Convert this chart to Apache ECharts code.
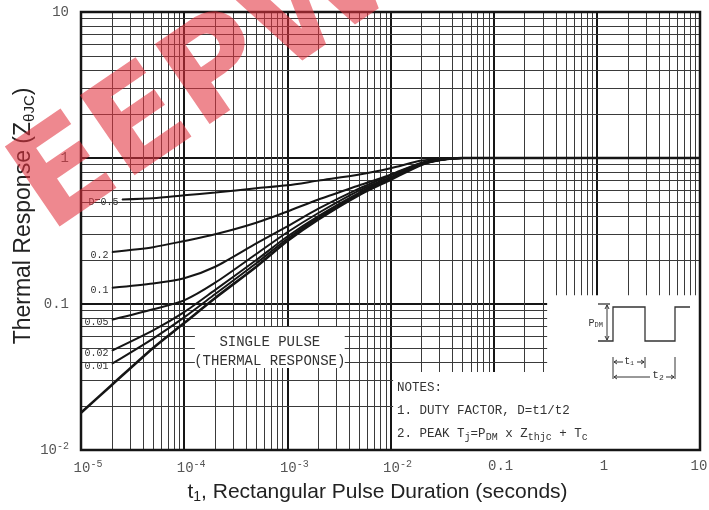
<!DOCTYPE html>
<html>
<head>
<meta charset="utf-8">
<script src="https://cdn.jsdelivr.net/npm/echarts@6/dist/echarts.min.js"></script>
<style>
  html, body { margin: 0; padding: 0; background: #fff; }
  #chart { width: 709px; height: 510px; }
</style>
</head>
<body>
<div id="chart"></div>
<script>
// Transient thermal impedance, junction to case, versus rectangular pulse width.
const pulseTimes = [2e-5, 5e-5, 1e-4, 2e-4, 5e-4, 1e-3, 2e-3, 5e-3, 1e-2, 2e-2, 3e-2, 5e-2, 0.1, 1, 10];
const singlePulseTimes = [1e-5, 2e-5, 5e-5, 1e-4, 2e-4, 5e-4, 1e-3, 2e-3, 5e-3, 1e-2, 2e-2, 3e-2, 5e-2, 0.1, 1, 10];
const duty05Times = [2.5e-5, 5e-5, 1e-4, 2e-4, 5e-4, 1e-3, 2e-3, 5e-3, 1e-2, 2e-2, 3e-2, 5e-2, 0.1, 1, 10];

const singlePulse = [0.018, 0.028, 0.05, 0.074, 0.11, 0.18, 0.27, 0.38, 0.56, 0.71, 0.90, 0.97, 1.0, 1.0, 1.0, 1.0];
const duty001 = [0.039, 0.058, 0.081, 0.117, 0.19, 0.28, 0.39, 0.57, 0.72, 0.90, 0.97, 1.0, 1.0, 1.0, 1.0];
const duty002 = [0.048, 0.066, 0.088, 0.125, 0.20, 0.29, 0.40, 0.58, 0.73, 0.91, 0.97, 1.0, 1.0, 1.0, 1.0];
const duty005 = [0.078, 0.092, 0.106, 0.14, 0.22, 0.31, 0.42, 0.60, 0.74, 0.91, 0.97, 1.0, 1.0, 1.0, 1.0];
const duty01 = [0.129, 0.138, 0.15, 0.18, 0.26, 0.34, 0.45, 0.62, 0.76, 0.92, 0.97, 1.0, 1.0, 1.0, 1.0];
const duty02 = [0.227, 0.245, 0.27, 0.30, 0.36, 0.43, 0.52, 0.65, 0.77, 0.93, 0.98, 1.0, 1.0, 1.0, 1.0];
const duty05 = [0.52, 0.53, 0.555, 0.58, 0.62, 0.65, 0.70, 0.77, 0.85, 0.96, 0.99, 1.0, 1.0, 1.0, 1.0];

const dutyLabels = ['D=0.5', '0.2', '0.1', '0.05', '0.02', '0.01'];
const xTickText = ['10{sup|-5}', '10{sup|-4}', '10{sup|-3}', '10{sup|-2}', '0.1', '1', '10'];
const yTickText = ['10{sup|-2}', '0.1', '1', '10'];

const MONO = '"Liberation Mono", "DejaVu Sans Mono", monospace';
const SANS = '"Liberation Sans", Arial, sans-serif';
const INK = '#151515';
const X_MIN = 1e-5, X_MAX = 10, Y_MIN = 0.01, Y_MAX = 10;

// log-paper minor rulings at 2..9 within each decade
const minorX = [];
for (let e = -5; e < 1; e++) for (let k = 2; k <= 9; k++) minorX.push(+(k * Math.pow(10, e)).toPrecision(3));
const minorY = [];
for (let e = -2; e < 1; e++) for (let k = 2; k <= 9; k++) minorY.push(+(k * Math.pow(10, e)).toPrecision(3));

function curve(name, xs, ys, width, labelText) {
  const data = xs.map((x, i) => {
    if (i === 0 && labelText) {
      return {
        value: [x, ys[i]],
        symbol: 'circle', symbolSize: 1,
        itemStyle: { color: INK },
        label: {
          show: true, position: 'left', distance: 3, offset: [0, 3],
          formatter: labelText, fontFamily: MONO, fontSize: 10, color: '#333'
        }
      };
    }
    return [x, ys[i]];
  });
  return {
    name: name, type: 'line', z: 3, data: data,
    symbol: 'none', smooth: 0.25, silent: true,
    lineStyle: { color: INK, width: width },
    label: { show: false }
  };
}

const G = (el) => Object.assign({ z: 60, silent: true }, el);

const chart = echarts.init(document.getElementById('chart'));
chart.setOption({
  animation: false,
  backgroundColor: '#fff',
  grid: {
    left: 81, right: 9, top: 12, bottom: 60, outerBoundsMode: 'none', containLabel: false,
    show: false
  },
  xAxis: {
    type: 'log', logBase: 10, min: X_MIN, max: X_MAX,
    axisLine: { show: false }, axisTick: { show: false },
    splitLine: { show: true, lineStyle: { color: INK, width: 2 } },
    axisLabel: {
      margin: 9, fontFamily: MONO, fontSize: 14, color: '#555', padding: [0, 0, 0, 14],
      formatter: (v) => {
        const i = Math.round(Math.log10(v)) + 5;
        return i === xTickText.length - 1 ? '{end|' + xTickText[i] + '}' : xTickText[i];
      },
      rich: {
        sup: { fontSize: 10, fontFamily: MONO, color: '#555', padding: [0, 0, 8, 0] },
        end: { fontSize: 14, fontFamily: MONO, color: '#555', padding: [0, 16, 0, 0] }
      }
    },
    name: 't{sub|1}, Rectangular Pulse Duration (seconds)',
    nameLocation: 'middle', nameGap: 30,
    nameTextStyle: {
      fontFamily: SANS, fontSize: 21, color: '#222', padding: [0, 26, 0, 0],
      rich: { sub: { fontFamily: SANS, fontSize: 14, color: '#222', padding: [10, 0, 0, 0] } }
    }
  },
  yAxis: {
    type: 'log', logBase: 10, min: Y_MIN, max: Y_MAX,
    axisLine: { show: false }, axisTick: { show: false },
    splitLine: { show: true, lineStyle: { color: INK, width: 2 } },
    axisLabel: {
      margin: 12, fontFamily: MONO, fontSize: 14, color: '#555',
      formatter: v => yTickText[Math.round(Math.log10(v)) + 2],
      rich: { sup: { fontSize: 10, fontFamily: MONO, color: '#555', padding: [0, 0, 8, 0] } }
    },
    name: 'Thermal Response (Z{sub|θJC})',
    nameLocation: 'middle', nameGap: 44, nameRotate: 90, nameMoveOverlap: false,
    nameTextStyle: {
      fontFamily: SANS, fontSize: 23, color: '#222', padding: [0, 0, 0, 30],
      rich: { sub: { fontFamily: SANS, fontSize: 15, color: '#222', padding: [11, 0, 0, 0] } }
    }
  },
  series: [
    {
      name: 'rulings', type: 'line', data: [], silent: true,
      markLine: {
        z: 1, silent: true, symbol: 'none', animation: false, precision: 10,
        label: { show: false },
        lineStyle: { type: 'solid', color: '#3a3a3a', width: 1 },
        data: minorX.map(v => ({ xAxis: v })).concat(minorY.map(v => ({ yAxis: v })))
      }
    },
    {
      name: 'panels', type: 'line', data: [], silent: true,
      markArea: {
        z: 2, silent: true, animation: false,
        itemStyle: { color: '#fff', borderWidth: 0 },
        data: [
          [
            {
              coord: [1.27e-4, 0.0695],
              label: {
                show: true, position: 'inside', offset: [0, 4],
                formatter: 'SINGLE PULSE\n(THERMAL RESPONSE)',
                fontFamily: MONO, fontSize: 14, lineHeight: 19, color: '#333', align: 'center'
              }
            },
            { coord: [3.6e-3, 0.0365] }
          ],
          [
            {
              coord: [0.0106, 0.0342],
              label: {
                show: true, position: 'insideTopLeft', distance: 4,
                formatter: 'NOTES:\n1. DUTY FACTOR, D=t1/t2\n2. PEAK T{s|j}=P{s|DM} x Z{s|thjc} + T{s|c}',
                fontFamily: MONO, fontSize: 12.5, lineHeight: 23, color: '#333',
                rich: { s: { fontFamily: MONO, fontSize: 10, color: '#333', padding: [7, 0, 0, 0] } }
              }
            },
            { coord: [X_MAX, Y_MIN] }
          ],
          [
            { coord: [0.33, 0.115] },
            { coord: [X_MAX, 0.0342] }
          ]
        ]
      }
    },
    {
      // heavy frame around the plotting area
      name: 'frame', type: 'line', data: [], silent: true,
      markArea: {
        z: 4, silent: true, animation: false,
        itemStyle: { color: 'rgba(0,0,0,0)', borderColor: INK, borderWidth: 2.5 },
        data: [[{ coord: [X_MIN, Y_MAX] }, { coord: [X_MAX, Y_MIN] }]]
      }
    },
    curve('Single pulse', singlePulseTimes, singlePulse, 2.6, null),
    curve('D=0.01', pulseTimes, duty001, 2, dutyLabels[5]),
    curve('D=0.02', pulseTimes, duty002, 2, dutyLabels[4]),
    curve('D=0.05', pulseTimes, duty005, 2, dutyLabels[3]),
    curve('D=0.1', pulseTimes, duty01, 2, dutyLabels[2]),
    curve('D=0.2', pulseTimes, duty02, 2, dutyLabels[1]),
    curve('D=0.5', duty05Times, duty05, 2, dutyLabels[0])
  ],
  graphic: [
    // pulse-train sketch for the duty-factor definition
    G({ type: 'polyline', shape: { points: [[598, 341], [613, 341], [613, 307], [645, 307], [645, 341], [675, 341], [675, 307], [690, 307]] },
        style: { stroke: '#333', lineWidth: 1.3, fill: null } }),
    G({ type: 'line', shape: { x1: 598, y1: 304, x2: 610, y2: 304 }, style: { stroke: '#333', lineWidth: 1.3 } }),
    G({ type: 'line', shape: { x1: 607, y1: 305, x2: 607, y2: 340 }, style: { stroke: '#333', lineWidth: 1 } }),
    G({ type: 'polyline', shape: { points: [[605, 309], [607, 305], [609, 309]] }, style: { stroke: '#333', lineWidth: 1, fill: null } }),
    G({ type: 'polyline', shape: { points: [[605, 336], [607, 340], [609, 336]] }, style: { stroke: '#333', lineWidth: 1, fill: null } }),
    G({ type: 'text', x: 603, y: 323, style: { text: 'P{s|DM}', align: 'right', verticalAlign: 'middle', font: '10px ' + MONO, fill: '#333',
        rich: { s: { fontSize: 7, fontFamily: MONO, fill: '#333', padding: [5, 0, 0, 0] } } } }),
    G({ type: 'line', shape: { x1: 613, y1: 357, x2: 613, y2: 379 }, style: { stroke: '#333', lineWidth: 1 } }),
    G({ type: 'line', shape: { x1: 645, y1: 357, x2: 645, y2: 368 }, style: { stroke: '#333', lineWidth: 1 } }),
    G({ type: 'line', shape: { x1: 675, y1: 357, x2: 675, y2: 379 }, style: { stroke: '#333', lineWidth: 1 } }),
    G({ type: 'line', shape: { x1: 614, y1: 362, x2: 623, y2: 362 }, style: { stroke: '#333', lineWidth: 1 } }),
    G({ type: 'polyline', shape: { points: [[617, 360], [614, 362], [617, 364]] }, style: { stroke: '#333', lineWidth: 1, fill: null } }),
    G({ type: 'text', x: 629, y: 361, style: { text: 't{s|1}', align: 'center', verticalAlign: 'middle', font: '10px ' + MONO, fill: '#333',
        rich: { s: { fontSize: 6, fontFamily: MONO, fill: '#333', padding: [4, 0, 0, 0] } } } }),
    G({ type: 'line', shape: { x1: 637, y1: 362, x2: 644, y2: 362 }, style: { stroke: '#333', lineWidth: 1 } }),
    G({ type: 'polyline', shape: { points: [[641, 360], [644, 362], [641, 364]] }, style: { stroke: '#333', lineWidth: 1, fill: null } }),
    G({ type: 'line', shape: { x1: 614, y1: 377, x2: 650, y2: 377 }, style: { stroke: '#333', lineWidth: 1 } }),
    G({ type: 'polyline', shape: { points: [[617, 375], [614, 377], [617, 379]] }, style: { stroke: '#333', lineWidth: 1, fill: null } }),
    G({ type: 'text', x: 658, y: 375, style: { text: 't{s|2}', align: 'center', verticalAlign: 'middle', font: '11px ' + MONO, fill: '#333',
        rich: { s: { fontSize: 8, fontFamily: MONO, fill: '#333', padding: [5, 0, 0, 0] } } } }),
    G({ type: 'line', shape: { x1: 666, y1: 377, x2: 674, y2: 377 }, style: { stroke: '#333', lineWidth: 1 } }),
    G({ type: 'polyline', shape: { points: [[671, 375], [674, 377], [671, 379]] }, style: { stroke: '#333', lineWidth: 1, fill: null } }),
    // publisher watermark
    G({
      type: 'text', z: 100, x: 30, y: 205, rotation: 0.6,
      style: {
        text: 'EEPW', font: 'bold 133px "DejaVu Sans", "Liberation Sans", sans-serif',
        fill: 'rgba(226, 50, 62, 0.58)', align: 'left', verticalAlign: 'middle'
      }
    })
  ]
});
</script>
</body>
</html>
